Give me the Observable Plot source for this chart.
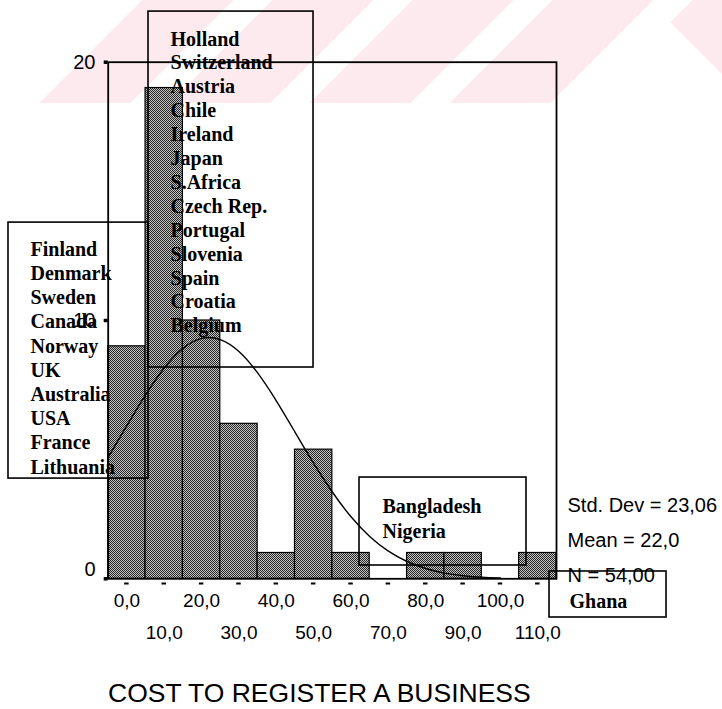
<!DOCTYPE html>
<html>
<head>
<meta charset="utf-8">
<script src="https://cdn.jsdelivr.net/npm/d3@7"></script>
<script src="https://cdn.jsdelivr.net/npm/@observablehq/plot@0.6"></script>
<style>
html, body { margin: 0; padding: 0; background: #fff; }
#wrap { position: relative; width: 722px; height: 709px; overflow: hidden; }
#wm { position: absolute; left: 0; top: 0; width: 722px; height: 103px;
  background: linear-gradient(135deg,
    #fff 0px, #fff 101px, #fdeaee 101px, #fdeaee 165px,
    #fff 165px, #fff 193px, #fdeaee 193px, #fdeaee 264px,
    #fff 264px, #fff 292px, #fdeaee 292px, #fdeaee 363px,
    #fff 363px, #fff 391px, #fdeaee 391px, #fdeaee 462px,
    #fff 462px, #fff 490px, #fdeaee 490px); }
#tri { position: absolute; left: 0; top: 0; width: 722px; height: 103px; background: #fff;
  clip-path: polygon(655px 7px, 722px 74px, 722px 103px, 559px 103px); }
#chart { position: absolute; left: 0; top: 0; }
</style>
</head>
<body>
<div id="wrap">
  <div id="wm"></div>
  <div id="tri"></div>
  <div id="chart"></div>
</div>
<script>
// ---- data ----
const binCenters = [0, 10, 20, 30, 40, 50, 60, 70, 80, 90, 100, 110];
const binCounts  = [9, 19, 10, 6, 1, 5, 1, 0, 1, 1, 0, 1];

// fitted normal curve
const curveX = [-5, 0, 5, 10, 15, 20, 25, 30, 35, 40, 45, 50, 55, 60, 65, 70, 75, 80, 85, 90, 95, 100];
const curveY = [4.71, 5.93, 7.12, 8.16, 8.92, 9.31, 9.26, 8.80, 7.97, 6.89, 5.68, 4.47, 3.36, 2.40, 1.64, 1.07, 0.67, 0.40, 0.22, 0.12, 0.06, 0.03];

const xTicks = [0, 10, 20, 30, 40, 50, 60, 70, 80, 90, 100, 110];
const xTickLabels = ["0,0", "10,0", "20,0", "30,0", "40,0", "50,0", "60,0", "70,0", "80,0", "90,0", "100,0", "110,0"];
const yTicks = [0, 10, 20];
const yTickLabels = ["0", "10", "20"];

const groupLow = ["Finland", "Denmark", "Sweden", "Canada", "Norway", "UK", "Australia", "USA", "France", "Lithuania"];
const groupMode = ["Holland", "Switzerland", "Austria", "Chile", "Ireland", "Japan", "S.Africa", "Czech Rep.", "Portugal", "Slovenia", "Spain", "Croatia", "Belgium"];
const groupHigh = ["Bangladesh", "Nigeria"];
const groupMax = ["Ghana"];

const statLabels = ["Std. Dev = 23,06", "Mean = 22,0", "N = 54,00"];
const axisTitle = "COST TO REGISTER A BUSINESS";

// ---- annotation layout (data coordinates) ----
const boxLayout = [
  {x1: 5.79, x2: 49.96, y1: 8.18, y2: 21.96},
  {x1: -31.69, x2: 5.79, y1: 3.88, y2: 13.79},
  {x1: 62.27, x2: 106.97, y1: 0.515, y2: 3.92},
  {x1: 113.13, x2: 144.45, y1: -1.498, y2: 0.283}
];
const textLayout = [
  {x: 11.68, y: 21.30, lh: 1.195, lines: groupMode},
  {x: -25.8, y: 13.17, lh: 1.21, lines: groupLow},
  {x: 68.43, y: 3.225, lh: 1.25, lines: groupHigh},
  {x: 118.48, y: -0.453, lh: 1.2, lines: groupMax}
];

const bars = binCenters.map((c, i) => ({center: c, count: binCounts[i]})).filter(d => d.count > 0);
const curve = curveX.map((x, i) => ({x, y: curveY[i]}));
const fmtX = d => xTickLabels[xTicks.indexOf(d)];
const fmtY = d => yTickLabels[yTicks.indexOf(d)];

const SANS = "'Liberation Sans', Arial, sans-serif";
const SERIF = "'Liberation Serif', 'Times New Roman', serif";

const groupMarks = textLayout.map(b => Plot.text([b.lines.join("\n")], {
  x: () => b.x, y: () => b.y, text: d => d,
  textAnchor: "start", lineAnchor: "top", lineHeight: b.lh,
  fontFamily: SERIF, fontWeight: "bold", fontSize: 20, fill: "black"
}));

const plot = Plot.plot({
  width: 722,
  height: 709,
  marginLeft: 107.7,
  marginRight: 166,
  marginTop: 61.7,
  marginBottom: 130.7,
  x: {domain: [-5, 115], axis: null},
  y: {domain: [0, 20], axis: null},
  style: {background: "transparent", overflow: "visible", fontFamily: SANS, color: "black"},
  marks: [
    Plot.rect(bars, {
      x1: d => d.center - 5, x2: d => d.center + 5, y1: () => 0, y2: "count",
      fill: "url(#dither)", stroke: "black", strokeWidth: 1.2
    }),
    Plot.line(curve, {x: "x", y: "y", curve: "natural", stroke: "black", strokeWidth: 1.4}),
    Plot.frame({stroke: "black", strokeWidth: 1.8}),
    Plot.rect(boxLayout, {x1: "x1", x2: "x2", y1: "y1", y2: "y2", fill: "none", stroke: "black", strokeWidth: 1.6}),
    ...groupMarks,
    Plot.text([statLabels.join("\n")], {
      x: () => 117.95, y: () => 3.535, text: d => d,
      textAnchor: "start", lineAnchor: "top", lineHeight: 1.75,
      fontFamily: SANS, fontSize: 20, fill: "black"
    }),
    // y axis tick squares and labels
    Plot.axisY({ticks: yTicks, tickSize: 4, strokeWidth: 3.5, tickFormat: () => ""}),
    Plot.text(yTicks.filter(d => d > 0), {
      y: d => d, text: fmtY, frameAnchor: "left", textAnchor: "end", dx: -12.7,
      fontFamily: SANS, fontSize: 20, fill: "black"
    }),
    Plot.text(yTicks.filter(d => d === 0), {
      y: d => d, text: fmtY, frameAnchor: "left", textAnchor: "end", dx: -12.7, dy: -9,
      fontFamily: SANS, fontSize: 20, fill: "black"
    }),
    // x axis dashes and staggered labels
    Plot.ruleY(xTicks, {y: () => 0, x1: d => d - 0.6, x2: d => d + 0.6, dy: 4.7, stroke: "black", strokeWidth: 2}),
    Plot.text(xTicks.filter((d, i) => i % 2 === 0), {
      x: d => d, text: fmtX, frameAnchor: "bottom", lineAnchor: "top", dy: 15,
      fontFamily: SANS, fontSize: 19, fill: "black"
    }),
    Plot.text(xTicks.filter((d, i) => i % 2 === 1), {
      x: d => d, text: fmtX, frameAnchor: "bottom", lineAnchor: "top", dy: 47,
      fontFamily: SANS, fontSize: 19, fill: "black"
    }),
    Plot.text([axisTitle], {
      frameAnchor: "bottom", text: d => d, lineAnchor: "top", dy: 104.7, dx: -13,
      fontFamily: SANS, fontSize: 26.5, fill: "black"
    })
  ]
});

// dithered grey fill like the scanned SPSS bars
const defs = d3.select(plot).insert("defs", ":first-child");
const pat = defs.append("pattern").attr("id", "dither").attr("patternUnits", "userSpaceOnUse")
  .attr("width", 2).attr("height", 2);
pat.append("rect").attr("width", 2).attr("height", 2).attr("fill", "#c4c4c4");
pat.append("rect").attr("width", 1).attr("height", 1).attr("fill", "#262626");
pat.append("rect").attr("x", 1).attr("y", 1).attr("width", 1).attr("height", 1).attr("fill", "#262626");

document.getElementById("chart").appendChild(plot);
</script>
</body>
</html>
